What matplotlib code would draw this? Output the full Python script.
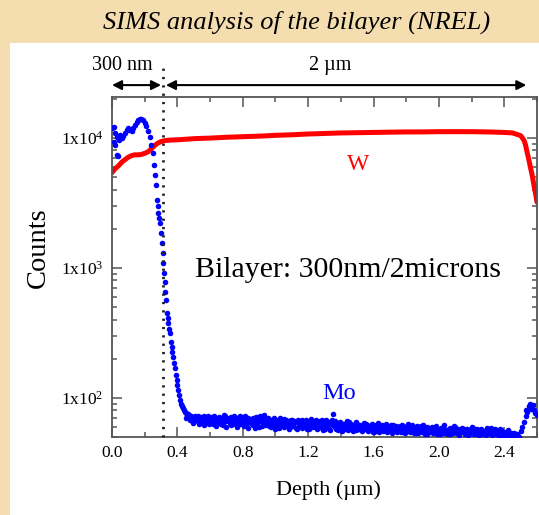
import numpy as np
import matplotlib
matplotlib.use("Agg")
import matplotlib.pyplot as plt
from matplotlib.patches import Rectangle
from matplotlib.ticker import MultipleLocator, FixedLocator, FixedFormatter, LogLocator, NullFormatter
from matplotlib.transforms import blended_transform_factory

plt.rcParams['font.family'] = ['Liberation Serif', 'DejaVu Serif']
plt.rcParams['mathtext.fontset'] = 'custom'
plt.rcParams['mathtext.rm'] = 'Liberation Serif'
plt.rcParams['mathtext.it'] = 'Liberation Serif:italic'

# ---- W signal (red) ----
w_depth = [0.00, 0.02, 0.04, 0.06, 0.08, 0.10, 0.12, 0.14, 0.16, 0.18,
           0.20, 0.22, 0.24, 0.26, 0.28, 0.30, 0.32, 0.35, 0.40, 0.45,
           0.50, 0.60, 0.70, 0.80, 0.90, 1.00, 1.10, 1.20, 1.30, 1.40,
           1.50, 1.60, 1.70, 1.80, 1.90, 2.00, 2.10, 2.20, 2.30, 2.40,
           2.45, 2.48, 2.50, 2.52, 2.53, 2.54, 2.55, 2.56, 2.57, 2.58,
           2.59, 2.60]
w_counts = [5400, 5800, 6100, 6500, 6800, 7100, 7300, 7400, 7400, 7450,
            7600, 7800, 8200, 8700, 9100, 9350, 9500, 9600, 9650, 9750,
            9850, 9950, 10100, 10200, 10300, 10450, 10550, 10700, 10800, 10900,
            10950, 11000, 11050, 11100, 11100, 11150, 11150, 11150, 11100, 11000,
            10900, 10600, 10400, 9600, 8800, 7700, 6800, 5900, 5200, 4400,
            3800, 3200]

# ---- Mo signal (blue) ----
# near surface (Mo layer)
mo_depth_top = [0.00, 0.01, 0.02, 0.03, 0.04, 0.05, 0.06, 0.07, 0.08, 0.09,
                0.10, 0.11, 0.12, 0.13, 0.14, 0.15, 0.16, 0.17, 0.18, 0.19,
                0.20, 0.21, 0.22, 0.23, 0.24, 0.25,
                0.018, 0.029, 0.039, 0.012]
mo_counts_top = [11800, 12200, 10800, 10100, 9700, 10500, 10000, 10400, 10900, 11500,
                 11900, 11500, 11200, 11800, 12600, 13300, 13700, 14000, 14000, 13600,
                 13000, 12300, 11200, 10100, 8800, 7600,
                 8800, 7400, 7200, 9300]

# interface drop
mo_depth_drop = [0.259, 0.264, 0.269, 0.274, 0.279, 0.284, 0.289, 0.294, 0.300, 0.306,
                 0.310, 0.314, 0.318, 0.322, 0.325, 0.329, 0.335, 0.340, 0.345, 0.350,
                 0.355, 0.360, 0.366, 0.370, 0.375, 0.380, 0.386, 0.390, 0.396, 0.400,
                 0.406, 0.410, 0.416, 0.420, 0.426, 0.433, 0.440, 0.446]
mo_counts_drop = [6200, 5200, 4350, 3330, 3000, 2650, 2400, 2220, 1860, 1560,
                  1300, 1090, 915, 780, 653, 567, 451, 410, 378, 340,
                  316, 270, 247, 225, 207, 185, 170, 150, 138, 125,
                  115, 105, 96, 90, 86, 84, 80, 78]

# background level in the W film, 0.45 .. 2.49 um step 0.01
mo_floor_start = 0.45
mo_counts_floor = [76, 72, 74, 69, 71, 66, 73, 68, 70, 65,
                   69, 72, 64, 67, 70, 66, 71, 63, 68, 69,
                   65, 70, 67, 62, 72, 66, 68, 64, 71, 67,
                   63, 69, 66, 73, 64, 68, 61, 67, 70, 65,
                   68, 62, 66, 71, 64, 60, 67, 65, 74, 63,
                   66, 61, 68, 64, 70, 62, 65, 59, 67, 63,
                   69, 61, 64, 66, 60, 68, 63, 65, 58, 66,
                   62, 67, 60, 64, 58, 65, 63, 69, 61, 60,
                   64, 59, 66, 62, 57, 63, 67, 60, 62, 65,
                   75, 61, 58, 64, 60, 62, 56, 63, 59, 61,
                   65, 58, 62, 60, 57, 63, 59, 61, 56, 64,
                   59, 62, 57, 60, 63, 55, 61, 58, 60, 57,
                   62, 56, 59, 61, 57, 60, 54, 62, 58, 59,
                   56, 61, 58, 55, 60, 57, 63, 55, 59, 57,
                   60, 54, 58, 56, 61, 55, 58, 57, 53, 59,
                   56, 60, 55, 58, 53, 57, 59, 54, 62, 56,
                   55, 58, 53, 57, 56, 60, 54, 57, 55, 59,
                   56, 53, 58, 55, 57, 54, 59, 56, 53, 57,
                   55, 58, 54, 56, 53, 57, 55, 59, 54, 56,
                   53, 56, 54, 57, 52, 55, 53, 56, 52, 54,
                   52, 54, 51, 53, 50]

# second pass of floor points, 0.455 .. 2.485 um step 0.01
mo_floor2_start = 0.455
mo_counts_floor2 = [70, 75, 67, 73, 64, 70, 67, 72, 63, 71,
                    66, 62, 70, 73, 63, 68, 65, 72, 61, 66,
                    71, 63, 68, 74, 60, 67, 70, 62, 66, 72,
                    67, 60, 71, 63, 69, 62, 72, 64, 59, 68,
                    63, 70, 59, 66, 68, 72, 61, 69, 62, 66,
                    70, 64, 60, 67, 58, 68, 62, 70, 61, 65,
                    60, 67, 63, 58, 68, 61, 66, 59, 67, 62,
                    66, 59, 64, 68, 61, 58, 66, 60, 64, 67,
                    58, 65, 61, 67, 60, 58, 62, 65, 57, 68,
                    62, 66, 59, 57, 65, 60, 63, 58, 66, 57,
                    60, 63, 56, 61, 65, 58, 62, 57, 60, 58,
                    63, 56, 61, 58, 55, 62, 57, 64, 55, 61,
                    57, 60, 63, 55, 59, 62, 57, 56, 61, 55,
                    60, 55, 62, 58, 54, 61, 56, 59, 62, 54,
                    57, 61, 54, 59, 55, 62, 53, 60, 57, 55,
                    59, 54, 57, 61, 55, 53, 58, 60, 54, 57,
                    53, 59, 56, 54, 61, 55, 58, 52, 57, 55,
                    58, 55, 52, 57, 54, 60, 53, 55, 58, 52,
                    57, 53, 56, 52, 59, 54, 57, 52, 55, 58,
                    55, 51, 58, 53, 55, 51, 54, 57, 51, 53,
                    53, 50, 52, 51]

# back interface (substrate side)
mo_depth_back = [2.50, 2.51, 2.52, 2.53, 2.535, 2.54, 2.55, 2.56, 2.565, 2.57,
                 2.575, 2.58, 2.59, 2.60]
mo_counts_back = [56, 60, 65, 72, 80, 78, 86, 90, 82, 85,
                  88, 80, 77, 74]

x_ticks = [0.0, 0.4, 0.8, 1.2, 1.6, 2.0, 2.4]
y_ticks = [1e2, 1e3, 1e4]
y_labels = ['1x10$^{2}$', '1x10$^{3}$', '1x10$^{4}$']

interface = 0.31

mo_depth_floor = [round(mo_floor_start + 0.01 * i, 3) for i in range(len(mo_counts_floor))]
mo_depth_floor2 = [round(mo_floor2_start + 0.01 * i, 3) for i in range(len(mo_counts_floor2))]
mo_depth = mo_depth_top + mo_depth_drop + mo_depth_floor + mo_depth_floor2 + mo_depth_back
mo_counts = mo_counts_top + mo_counts_drop + mo_counts_floor + mo_counts_floor2 + mo_counts_back

fig = plt.figure(figsize=(5.39, 5.15), dpi=100)
fig.patch.set_facecolor('#F4DDAE')
fig.add_artist(Rectangle((10 / 539, 0), 529 / 539, 472 / 515, transform=fig.transFigure,
                         facecolor='white', edgecolor='none', zorder=-1))

fig.text(297 / 539, 1 - 22 / 515, 'SIMS analysis of the bilayer (NREL)',
         ha='center', va='center', fontsize=19, style='italic')

ax = fig.add_axes([112 / 539, 78 / 515, 425 / 539, 340 / 515])

ax.plot(w_depth, w_counts, color='#FF0000', lw=3.6, solid_capstyle='round', zorder=2)
ax.plot(mo_depth, mo_counts, linestyle='none', marker='o', ms=4.0, mew=0,
        color='#0000FF', zorder=3)

ax.set_yscale('log')
ax.set_xlim(0, 2.6)
ax.set_ylim(50, 20600)

ax.xaxis.set_major_locator(FixedLocator(x_ticks))
ax.xaxis.set_major_formatter(FixedFormatter(['%.1f' % t for t in x_ticks]))
ax.xaxis.set_minor_locator(MultipleLocator(0.2))
ax.yaxis.set_major_locator(FixedLocator(y_ticks))
ax.yaxis.set_major_formatter(FixedFormatter(y_labels))
ax.yaxis.set_minor_locator(LogLocator(base=10, subs=np.arange(2, 10)))
ax.yaxis.set_minor_formatter(NullFormatter())

for s in ax.spines.values():
    s.set_color('#555555')
    s.set_linewidth(1.3)
ax.tick_params(which='both', direction='in', top=True, right=True, color='#555555', width=1.1)
ax.tick_params(which='major', length=7, labelsize=12.5, pad=6)
ax.tick_params(which='minor', length=3.5)

trans = blended_transform_factory(ax.transData, ax.transAxes)
ax.plot([interface, interface], [0, 1.10], transform=trans, clip_on=False,
        color='#222222', lw=2, linestyle=(0, (0.8, 2.2)), zorder=4)

ax.annotate('', xy=(0.0, 1.035), xytext=(0.30, 1.035), xycoords=trans, textcoords=trans,
            annotation_clip=False,
            arrowprops=dict(arrowstyle='<|-|>', color='black', lw=1.5,
                            mutation_scale=14, shrinkA=0, shrinkB=0))
ax.annotate('', xy=(0.33, 1.035), xytext=(2.535, 1.035), xycoords=trans, textcoords=trans,
            annotation_clip=False,
            arrowprops=dict(arrowstyle='<|-|>', color='black', lw=1.5,
                            mutation_scale=14, shrinkA=0, shrinkB=0))
ax.text(0.061, 1.079, '300 nm', transform=trans, ha='center', va='baseline', fontsize=14.5)
ax.text(1.335, 1.079, '2 \u00b5m', transform=trans, ha='center', va='baseline', fontsize=14.5)

ax.text(1.506, 5680, 'W', color='#FF0000', ha='center', va='baseline', fontsize=17)
ax.text(1.39, 98, 'Mo', color='#0000FF', ha='center', va='baseline', fontsize=17.5)
ax.text(0.508, 850, 'Bilayer: 300nm/2microns', ha='left', va='baseline', fontsize=21.5)

fig.text(38 / 539, 1 - 248 / 515, 'Counts', rotation=90, ha='center', va='center', fontsize=20.5)
fig.text(328 / 539, 1 - 490 / 515, 'Depth (\u00b5m)', ha='center', va='center', fontsize=16)

fig.savefig('out.png', dpi=100, facecolor=fig.get_facecolor())
